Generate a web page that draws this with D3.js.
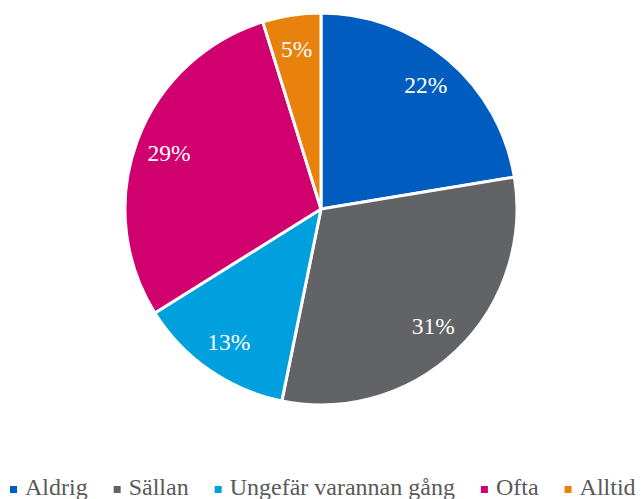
<!DOCTYPE html>
<html>
<head>
<meta charset="utf-8">
<script src="https://d3js.org/d3.v7.min.js"></script>
</head>
<body style="margin:0">
<script>
var width = 644, height = 499

// data (share of answers, %)
var categories = ["Aldrig", "Sällan", "Ungefär varannan gång", "Ofta", "Alltid"]
var values = [22.4, 30.8, 12.9, 29.1, 4.8]
var labels = ["22%", "31%", "13%", "29%", "5%"]
var colors = ["#005DBF", "#626366", "#00A0DF", "#D0006F", "#E9820C"]

var cx = 321, cy = 209, radius = 196

var svg = d3.select("body").append("svg")
  .attr("width", width)
  .attr("height", height)

var data = categories.map((c, i) => ({name: c, value: values[i], label: labels[i], color: colors[i]}))

var pie = d3.pie().sort(null).value(d => d.value)
var arc = d3.arc().innerRadius(0).outerRadius(radius)
var labelArc = d3.arc().innerRadius(162).outerRadius(162)

var g = svg.append("g").attr("transform", "translate(" + cx + "," + cy + ")")

var slices = g.selectAll("g.slice")
  .data(pie(data))
  .enter().append("g").attr("class", "slice")

slices.append("path")
  .attr("d", arc)
  .attr("fill", d => d.data.color)
  .attr("stroke", "#fff")
  .attr("stroke-width", 3)
  .attr("stroke-linejoin", "round")

slices.append("text")
  .attr("transform", d => "translate(" + labelArc.centroid(d) + ")")
  .attr("text-anchor", "middle")
  .attr("dominant-baseline", "central")
  .attr("fill", "#fff")
  .attr("font-family", "Liberation Serif")
  .attr("font-size", 23.5)
  .text(d => d.data.label)

// legend along the bottom
var items = svg.append("g").selectAll("g").data(data).enter().append("g")
items.append("rect")
  .attr("y", 486)
  .attr("width", 7).attr("height", 7)
  .attr("fill", d => d.color)
items.append("text")
  .attr("x", 15)
  .attr("y", 495)
  .attr("font-family", "Liberation Serif")
  .attr("font-size", 24)
  .attr("fill", "#595959")
  .text(d => d.name)

var x = 10
items.each(function(d) {
  var w = d3.select(this).select("text").node().getComputedTextLength()
  d3.select(this).attr("transform", "translate(" + x + ",0)")
  x += 15 + w + 26
})
</script>
</body>
</html>
